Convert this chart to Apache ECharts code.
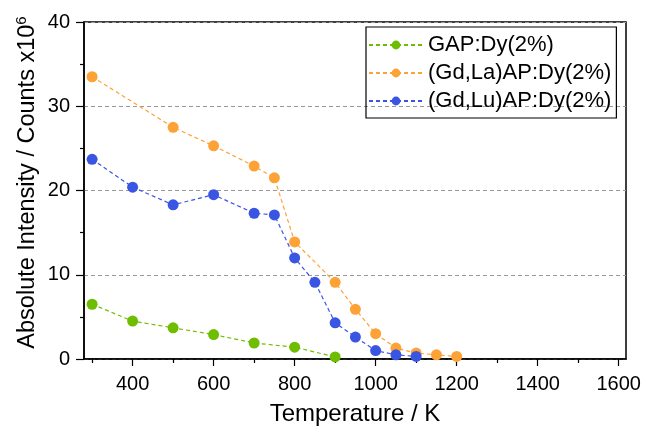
<!DOCTYPE html>
<html><head><meta charset="utf-8">
<script src="https://cdn.jsdelivr.net/npm/echarts@6/dist/echarts.min.js"></script>
<style>html,body{margin:0;padding:0;background:#fff}#c{width:646px;height:427px}</style>
</head><body><div id="c"></div>
<script>
const names = ['GAP:Dy(2%)', '(Gd,La)AP:Dy(2%)', '(Gd,Lu)AP:Dy(2%)'];
const gapT = [300, 400, 500, 600, 700, 800, 900];
const gapV = [6.5, 4.5, 3.7, 2.9, 1.9, 1.4, 0.25];
const laT = [300, 500, 600, 700, 750, 800, 900, 950, 1000, 1050, 1100, 1150, 1200];
const laV = [33.5, 27.5, 25.3, 22.9, 21.5, 13.9, 9.1, 5.9, 3.0, 1.3, 0.7, 0.5, 0.3];
const luT = [300, 400, 500, 600, 700, 750, 800, 850, 900, 950, 1000, 1050, 1100];
const luV = [23.7, 20.4, 18.3, 19.5, 17.3, 17.1, 12.0, 9.1, 4.3, 2.6, 1.0, 0.5, 0.3];
const xMajor = [400, 600, 800, 1000, 1200, 1400, 1600];
const xMinor = [300, 500, 700, 900, 1100, 1300, 1500];
const yTicks = [0, 10, 20, 30, 40];
const colors = ['#6fbd00', '#fda236', '#3a55e2'];

const font = 'Liberation Sans, Arial, sans-serif';
function pairs(t, v) { return t.map((x, i) => [x, v[i]]); }
const seriesData = [pairs(gapT, gapV), pairs(laT, laV), pairs(luT, luV)];

const chart = echarts.init(document.getElementById('c'), null, {renderer: 'canvas'});
chart.setOption({
  animation: false,
  textStyle: {fontFamily: font, color: '#000'},
  grid: {left: 84, right: 20, top: 22, bottom: 68, show: true, borderColor: '#000', borderWidth: 1.5, backgroundColor: 'transparent', containLabel: false, outerBoundsMode: 'none'},
  legend: {
    orient: 'vertical', left: 366, top: 27,
    padding: [7, 5, 6, 2],
    itemGap: 6, itemWidth: 54, itemHeight: 11,
    borderColor: '#000', borderWidth: 1.2,
    textStyle: {fontSize: 22, fontFamily: font, color: '#000'},
    data: names
  },
  xAxis: [{
    type: 'value', min: 280, max: 1618,
    position: 'bottom',
    axisLine: {show: true, lineStyle: {color: '#000', width: 1.5}},
    axisTick: {show: true, length: 7, inside: false, customValues: xMajor, lineStyle: {color: '#000', width: 1.2}},
    axisLabel: {customValues: xMajor, fontSize: 20, color: '#000', margin: 15, fontFamily: font, formatter: v => String(v)},
    splitLine: {show: false},
    name: 'Temperature / K', nameLocation: 'middle', nameGap: 43,
    nameTextStyle: {fontSize: 24, color: '#000', fontFamily: font}
  }, {
    type: 'value', min: 280, max: 1618,
    position: 'bottom', offset: 0,
    axisLine: {show: false},
    axisTick: {show: true, length: 4, customValues: xMinor, lineStyle: {color: '#000', width: 1.2}},
    axisLabel: {show: false},
    splitLine: {show: false}
  }],
  yAxis: [{
    type: 'value', min: 0, max: 40, interval: 10,
    axisLine: {show: true, lineStyle: {color: '#000', width: 1.5}},
    axisTick: {show: true, length: 8, lineStyle: {color: '#000', width: 1.2}},
    minorTick: {show: true, splitNumber: 2, length: 4, lineStyle: {color: '#000', width: 1.2}},
    axisLabel: {fontSize: 20, color: '#000', margin: 14, fontFamily: font},
    splitLine: {show: true, lineStyle: {color: '#999', type: [4, 3], width: 1}},
    name: '{a|Absolute Intensity / Counts x10}{b|6}', nameLocation: 'middle', nameGap: 43, nameRotate: 90,
    nameMoveOverlap: false,
    nameTextStyle: {
      fontFamily: font, color: '#000', padding: [0, 0, 0, 16],
      rich: {
        a: {fontSize: 23.5, fontFamily: font, color: '#000'},
        b: {fontSize: 15, fontFamily: font, color: '#000', verticalAlign: 'top', padding: [0, 0, 12, 0]}
      }
    }
  }],
  series: names.map((n, i) => ({
    name: n, type: 'line', xAxisIndex: 0, yAxisIndex: 0,
    data: seriesData[i],
    symbol: 'circle', symbolSize: 11,
    itemStyle: {color: colors[i]},
    lineStyle: {color: colors[i], width: 1.2, type: [4, 3]},
    z: 3 + i
  }))
});
</script></body></html>
